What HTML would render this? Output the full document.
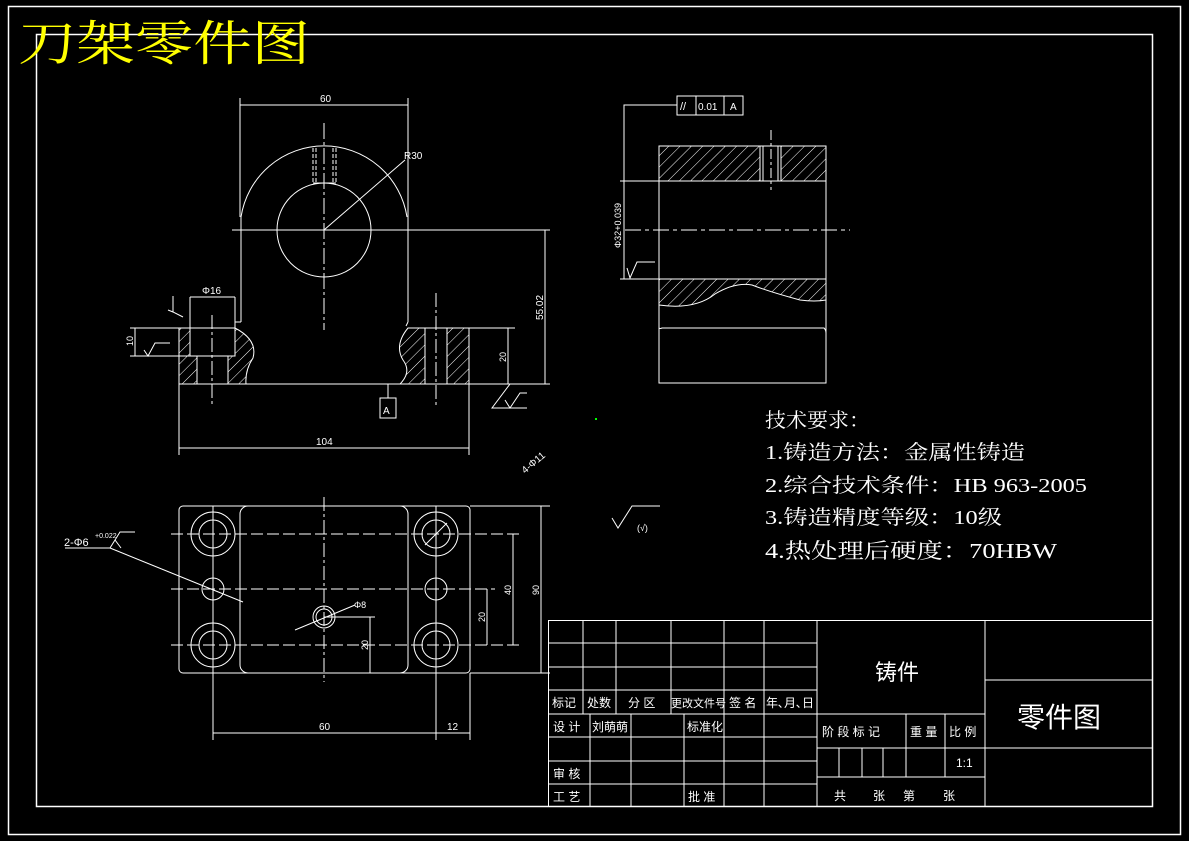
<!DOCTYPE html>
<html><head><meta charset="utf-8"><style>
html,body{margin:0;padding:0;background:#000;}
svg{display:block}
text{font-family:"Liberation Sans","Noto Sans CJK SC",sans-serif;fill:#fff}
text.s{font-family:"Liberation Serif","Noto Serif CJK SC",serif;font-size:20px}
</style></head><body>
<svg width="1189" height="841" viewBox="0 0 1189 841" xmlns="http://www.w3.org/2000/svg">
<defs>
<pattern id="h" width="8" height="8" patternUnits="userSpaceOnUse" patternTransform="rotate(45)">
<line x1="0" y1="0" x2="0" y2="8" stroke="#fff" stroke-width="1"/></pattern>
</defs>
<rect width="1189" height="841" fill="#000"/>
<g fill="none" stroke="#fff" stroke-width="1">
<rect x="8.5" y="6.5" width="1172" height="828" stroke-width="1.5"/>
<rect x="36.5" y="34.5" width="1116" height="772" stroke-width="1.5"/>
</g>
<text x="18" y="60" textLength="292" lengthAdjust="spacingAndGlyphs" style="font-family:'Noto Serif CJK SC',serif;font-size:48px;fill:#ff0">刀架零件图</text>

<!-- FRONT VIEW -->
<g fill="none" stroke="#fff" stroke-width="1">
<path d="M179,328 L190,328 L190,356 L197,356 L197,384 L179,384Z" fill="url(#h)"/>
<path d="M235,328 Q258,340 253,358 Q245,370 246,384 L228,384 L228,356 L235,356Z" fill="url(#h)"/>
<path d="M408,328 L425,328 L425,384 L400,384 Q412,372 403,360 Q394,345 408,328Z" fill="url(#h)"/>
<path d="M447,328 L469,328 L469,384 L447,384Z" fill="url(#h)"/>
<path d="M241,217 A84,84 0 0 1 407,217"/>
<circle cx="324" cy="230" r="47"/>
<line x1="241" y1="217" x2="241" y2="322"/>
<line x1="408" y1="217" x2="408" y2="322"/>
<line x1="179" y1="328" x2="235" y2="328"/>
<line x1="408" y1="328" x2="515" y2="328"/>
<line x1="179" y1="384" x2="550" y2="384"/>
<line x1="179" y1="328" x2="179" y2="455"/>
<line x1="469" y1="328" x2="469" y2="455"/>
<rect x="190" y="328" width="45" height="28"/>
<line x1="197" y1="356" x2="197" y2="384"/><line x1="228" y1="356" x2="228" y2="384"/>
<line x1="425" y1="328" x2="425" y2="384"/><line x1="447" y1="328" x2="447" y2="384"/>
<path d="M235,322 L241,322 M408,322 L406,326"/>
<g stroke-dasharray="4,2"><line x1="313" y1="148" x2="313" y2="183"/><line x1="316" y1="148" x2="316" y2="183"/><line x1="333" y1="148" x2="333" y2="183"/><line x1="336" y1="148" x2="336" y2="183"/></g>
<line x1="313" y1="183" x2="336" y2="183"/>
<line x1="324" y1="123" x2="324" y2="330" stroke-dasharray="16,3,3,3"/>
<line x1="232" y1="230" x2="550" y2="230"/>
<line x1="212" y1="315" x2="212" y2="407" stroke-dasharray="14,3,3,3"/>
<line x1="436" y1="293" x2="436" y2="407" stroke-dasharray="14,3,3,3"/>
<line x1="324" y1="230" x2="405" y2="160"/>
<line x1="240" y1="98" x2="240" y2="217"/><line x1="408" y1="98" x2="408" y2="217"/>
<line x1="240" y1="105" x2="408" y2="105"/>
<line x1="179" y1="448" x2="469" y2="448"/>
<line x1="545" y1="230" x2="545" y2="384"/>
<line x1="508" y1="328" x2="508" y2="384"/>
<line x1="190" y1="297" x2="190" y2="328"/><line x1="235" y1="297" x2="235" y2="328"/>
<line x1="190" y1="297" x2="235" y2="297"/>
<line x1="130" y1="328" x2="179" y2="328"/><line x1="130" y1="356" x2="190" y2="356"/>
<line x1="135" y1="328" x2="135" y2="356"/>
<rect x="380" y="398" width="16" height="20"/>
<line x1="388" y1="384" x2="388" y2="398"/>
<path d="M510,384 L492,408 L527,408 M505,400 L510,408 L520,393 L527,393"/>
<path d="M144,350 L148,356 L155,343 L170,343"/>
<path d="M173,296 L173,312 L183,317 M173,312 L168,310"/>
</g>
<text x="320" y="102" font-size="10">60</text>
<text x="404" y="159" font-size="10">R30</text>
<text x="202" y="294" font-size="10">Φ16</text>
<text x="316" y="445" font-size="10">104</text>
<text x="383" y="414" font-size="10">A</text>
<text transform="translate(543,320) rotate(-90)" font-size="10">55.02</text>
<text transform="translate(506,362) rotate(-90)" font-size="9">20</text>
<text transform="translate(133,346) rotate(-90)" font-size="9">10</text>
<text transform="translate(525,474) rotate(-40)" font-size="10">4-Φ11</text>

<!-- SIDE VIEW -->
<g fill="none" stroke="#fff" stroke-width="1">
<rect x="659" y="146" width="101" height="35" fill="url(#h)"/>
<rect x="781" y="146" width="45" height="35" fill="url(#h)"/>
<path d="M659,279 L826,279 L826,300 Q815,302 800,300 Q770,292 752,285 Q735,282 715,294 Q695,310 659,305Z" fill="url(#h)"/>
<rect x="659" y="146" width="167" height="237"/>
<line x1="760" y1="146" x2="760" y2="181"/><line x1="763" y1="146" x2="763" y2="181"/>
<line x1="778" y1="146" x2="778" y2="181"/><line x1="781" y1="146" x2="781" y2="181"/>
<line x1="771" y1="130" x2="771" y2="190" stroke-dasharray="10,3,3,3"/>
<line x1="620" y1="181" x2="826" y2="181"/>
<line x1="620" y1="279" x2="826" y2="279"/>
<line x1="625" y1="230" x2="850" y2="230" stroke-dasharray="16,4,4,4"/>
<path d="M659,328 Q660,329 662,328 L824,328 Q826,330 826,333"/>
<path d="M677,105 L624,105 L624,279"/>
<rect x="677" y="96" width="66" height="19"/>
<line x1="696" y1="96" x2="696" y2="115"/><line x1="724" y1="96" x2="724" y2="115"/>
<path d="M627,268 L630,278 L637,262 L655,262"/>
</g>
<text x="680" y="110" font-size="11">//</text>
<text x="698" y="110" font-size="10">0.01</text>
<text x="730" y="110" font-size="10">A</text>
<text transform="translate(621,248) rotate(-90)" font-size="9">Φ32+0.039</text>

<!-- TOP VIEW -->
<g fill="none" stroke="#fff" stroke-width="1">
<rect x="179" y="506" width="291" height="167" rx="4"/>
<rect x="240" y="506" width="168" height="167" rx="8"/>
<circle cx="213" cy="534" r="22"/><circle cx="213" cy="534" r="14"/>
<circle cx="213" cy="645" r="22"/><circle cx="213" cy="645" r="14"/>
<circle cx="436" cy="534" r="22"/><circle cx="436" cy="534" r="14"/>
<circle cx="436" cy="645" r="22"/><circle cx="436" cy="645" r="14"/>
<circle cx="213" cy="589" r="11"/><circle cx="436" cy="589" r="11"/>
<circle cx="324" cy="617" r="11"/><circle cx="324" cy="617" r="8"/>
<g stroke-dasharray="12,4">
<line x1="171" y1="534" x2="519" y2="534"/><line x1="171" y1="589" x2="495" y2="589"/><line x1="171" y1="645" x2="519" y2="645"/>
<line x1="324" y1="497" x2="324" y2="682" stroke-dasharray="14,3,3,3"/>
</g>
<line x1="213" y1="506" x2="213" y2="740"/><line x1="436" y1="506" x2="436" y2="740"/>
<line x1="470" y1="673" x2="470" y2="740"/>
<line x1="213" y1="733" x2="470" y2="733"/>
<line x1="513" y1="534" x2="513" y2="645"/>
<line x1="541" y1="506" x2="541" y2="673"/><line x1="470" y1="506" x2="550" y2="506"/><line x1="470" y1="673" x2="550" y2="673"/>
<line x1="487" y1="589" x2="487" y2="645"/>
<line x1="370" y1="617" x2="370" y2="673"/><line x1="324" y1="617" x2="375" y2="617"/>
<line x1="295" y1="630" x2="355" y2="605"/>
<line x1="425" y1="545" x2="447" y2="523"/>
<path d="M65,548 L110,548 L115,540 L121,548 M115,540 L120,532 L135,532"/>
<line x1="110" y1="548" x2="243" y2="602"/>
<path d="M612,518 L618,528 L632,506 L660,506"/>
</g>
<text x="319" y="730" font-size="10">60</text>
<text x="447" y="730" font-size="10">12</text>
<text transform="translate(511,595) rotate(-90)" font-size="9">40</text>
<text transform="translate(539,595) rotate(-90)" font-size="9">90</text>
<text transform="translate(485,622) rotate(-90)" font-size="9">20</text>
<text transform="translate(368,650) rotate(-90)" font-size="9">20</text>
<text x="354" y="608" font-size="9">Φ8</text>
<text x="64" y="546" font-size="11">2-Φ6</text>
<text x="95" y="538" font-size="7">+0.022</text>
<text x="637" y="531" font-size="9">(√)</text>

<!-- TECH REQUIREMENTS -->
<text class="s" x="765" y="427" textLength="105" lengthAdjust="spacingAndGlyphs">技术要求：</text>
<text class="s" x="765" y="459" textLength="260" lengthAdjust="spacingAndGlyphs">1.铸造方法：金属性铸造</text>
<text class="s" x="765" y="492" textLength="322" lengthAdjust="spacingAndGlyphs">2.综合技术条件：HB 963-2005</text>
<text class="s" x="765" y="524" textLength="237" lengthAdjust="spacingAndGlyphs">3.铸造精度等级：10级</text>
<text class="s" x="765" y="558" textLength="292" lengthAdjust="spacingAndGlyphs" style="font-size:21px">4.热处理后硬度：70HBW</text>
<rect x="595" y="418" width="2" height="2" fill="#0f0"/>

<!-- TITLE BLOCK -->
<g fill="none" stroke="#fff" stroke-width="1">
<rect x="548.5" y="620.5" width="604" height="186"/>
<line x1="548" y1="643" x2="817" y2="643"/><line x1="548" y1="667" x2="817" y2="667"/>
<line x1="548" y1="690" x2="817" y2="690"/><line x1="548" y1="714" x2="985" y2="714"/>
<line x1="548" y1="737" x2="817" y2="737"/><line x1="548" y1="761" x2="817" y2="761"/>
<line x1="548" y1="784" x2="817" y2="784"/>
<line x1="583" y1="620" x2="583" y2="714"/><line x1="616" y1="620" x2="616" y2="714"/>
<line x1="671" y1="620" x2="671" y2="714"/>
<line x1="590" y1="714" x2="590" y2="807"/><line x1="631" y1="714" x2="631" y2="807"/>
<line x1="684" y1="714" x2="684" y2="807"/>
<line x1="724" y1="620" x2="724" y2="807"/><line x1="764" y1="620" x2="764" y2="807"/>
<line x1="817" y1="620" x2="817" y2="807"/><line x1="985" y1="620" x2="985" y2="807"/>
<line x1="985" y1="680" x2="1153" y2="680"/><line x1="985" y1="748" x2="1153" y2="748"/>
<line x1="817" y1="748" x2="985" y2="748"/><line x1="817" y1="777" x2="985" y2="777"/>
<line x1="906" y1="714" x2="906" y2="777"/><line x1="945" y1="714" x2="945" y2="777"/>
<line x1="839" y1="748" x2="839" y2="777"/><line x1="862" y1="748" x2="862" y2="777"/><line x1="883" y1="748" x2="883" y2="777"/>
</g>
<g font-size="12">
<text x="552" y="707">标记</text><text x="587" y="707">处数</text><text x="628" y="707">分 区</text>
<text x="671" y="707" font-size="11">更改文件号</text><text x="729" y="707">签 名</text><text x="766" y="707">年､月､日</text>
<text x="553" y="731">设 计</text><text x="592" y="731">刘萌萌</text><text x="687" y="731">标准化</text>
<text x="553" y="778">审 核</text><text x="553" y="801">工 艺</text><text x="688" y="801">批 准</text>
<text x="822" y="736">阶 段 标 记</text><text x="910" y="736">重 量</text><text x="949" y="736">比 例</text>
<text x="956" y="767">1:1</text>
<text x="834" y="800">共</text><text x="873" y="800">张</text><text x="903" y="800">第</text><text x="943" y="800">张</text>
</g>
<text x="875" y="680" font-size="22">铸件</text>
<text x="1017" y="727" font-size="28">零件图</text>
</svg>
</body></html>
